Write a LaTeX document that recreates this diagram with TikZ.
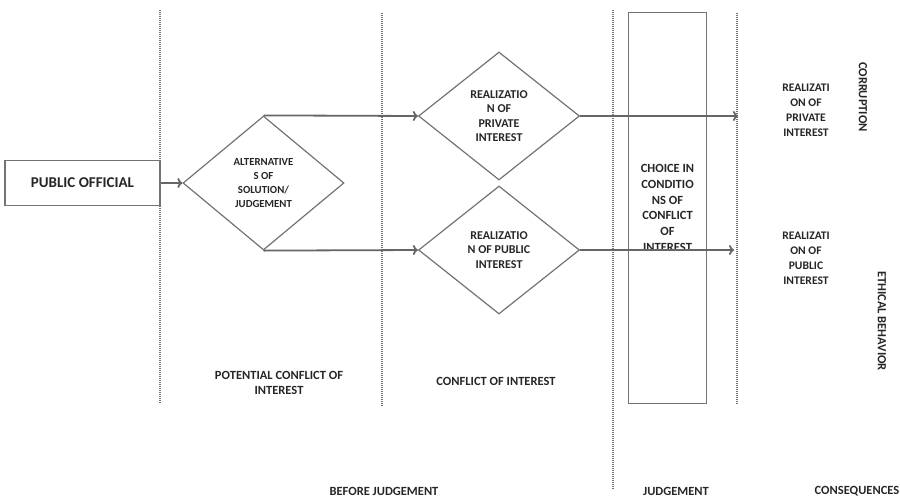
\documentclass[tikz,border=0pt]{standalone}
\usepackage{fontspec}
\setmainfont{Carlito}
\usetikzlibrary{shapes.geometric,arrows.meta}

\tikzset{
	lbl/.style={text=black!85,font=\bfseries\fontsize{12.5}{14.5}\selectfont,align=center,inner sep=0pt},
	dia/.style={draw=black!55,line width=1.2pt,diamond,aspect=1.2,inner sep=0pt,
		minimum width=161pt,minimum height=128pt,lbl,font=\bfseries\fontsize{12}{14.5}\selectfont},
	flow/.style={draw=black!60,line width=1.8pt,-{To[length=5pt,width=10pt]}},
	divider/.style={draw=black!55,line width=1.1pt,dash pattern=on 1pt off 1pt}
}

\begin{document}
\begin{tikzpicture}[x=1pt,y=-1pt]
				\useasboundingbox (0,0) rectangle (900,499);
				
				% dividers between the stages
				\draw [divider] (160,10) -- (160,403);
				\draw [divider] (382,13) -- (382,407);
				\draw [divider] (613,10) -- (613,490);
				\draw [divider] (737,13) -- (737,405);
				
				\node [draw=black!55,
				line width=1.2pt,
				minimum width=155pt,
				minimum height=45pt,
				lbl,
				font=\bfseries\fontsize{15}{17}\selectfont] (official) at (82.5,183){PUBLIC OFFICIAL};
				
				\node [dia,
				minimum height=134pt,
				font=\bfseries\fontsize{10.8}{13.7}\selectfont] (alt) at (263.5,183){ALTERNATIVE\\S OF\\SOLUTION/\\JUDGEMENT};
				
				\node [dia] (priv) at (499,116){REALIZATIO\\N OF\\PRIVATE\\INTEREST};
				
				\node [dia] (pub) at (499,250){REALIZATIO\\N OF PUBLIC\\INTEREST};
				
				\node [draw=black!55,
				line width=1.2pt,
				minimum width=78pt,
				minimum height=391pt,
				lbl,
				font=\bfseries\fontsize{12.5}{15.8}\selectfont] (choice) at (667.5,208){CHOICE IN\\CONDITIO\\NS OF\\CONFLICT\\OF\\INTEREST};
				
				\node [lbl,font=\bfseries\fontsize{11.6}{15}\selectfont] (resPriv) at (806,110){REALIZATI\\ON OF\\PRIVATE\\INTEREST};
				\node [lbl,font=\bfseries\fontsize{11.6}{15}\selectfont] (resPub) at (806,258){REALIZATI\\ON OF\\PUBLIC\\INTEREST};
				
				\node [lbl,rotate=-90] (corrupt) at (863,97){CORRUPTION};
				\node [lbl,rotate=-90] (ethic) at (882,321){ETHICAL BEHAVIOR};
				
				\coordinate (endPriv) at (738,116);
				\coordinate (endPub) at (734,250);
				
				\draw [flow] (official) -- (alt);
				\draw [flow] (alt.north) -- (priv.west);
				\draw [flow] (alt.south) -- (pub.west);
				\draw [flow] (priv.east) -- (endPriv);
				\draw [flow] (pub.east) -- (endPub);
				
				% stage labels
				\node [lbl] (potential) at (279,383){POTENTIAL CONFLICT OF\\INTEREST};
				\node [lbl] (conflict) at (496,381){CONFLICT OF INTEREST};
				\node [lbl] (before) at (384,491){BEFORE JUDGEMENT};
				\node [lbl] (judge) at (676,491){JUDGEMENT};
				\node [lbl] (conseq) at (857,491){CONSEQUENCES};
			\end{tikzpicture}
\end{document}
